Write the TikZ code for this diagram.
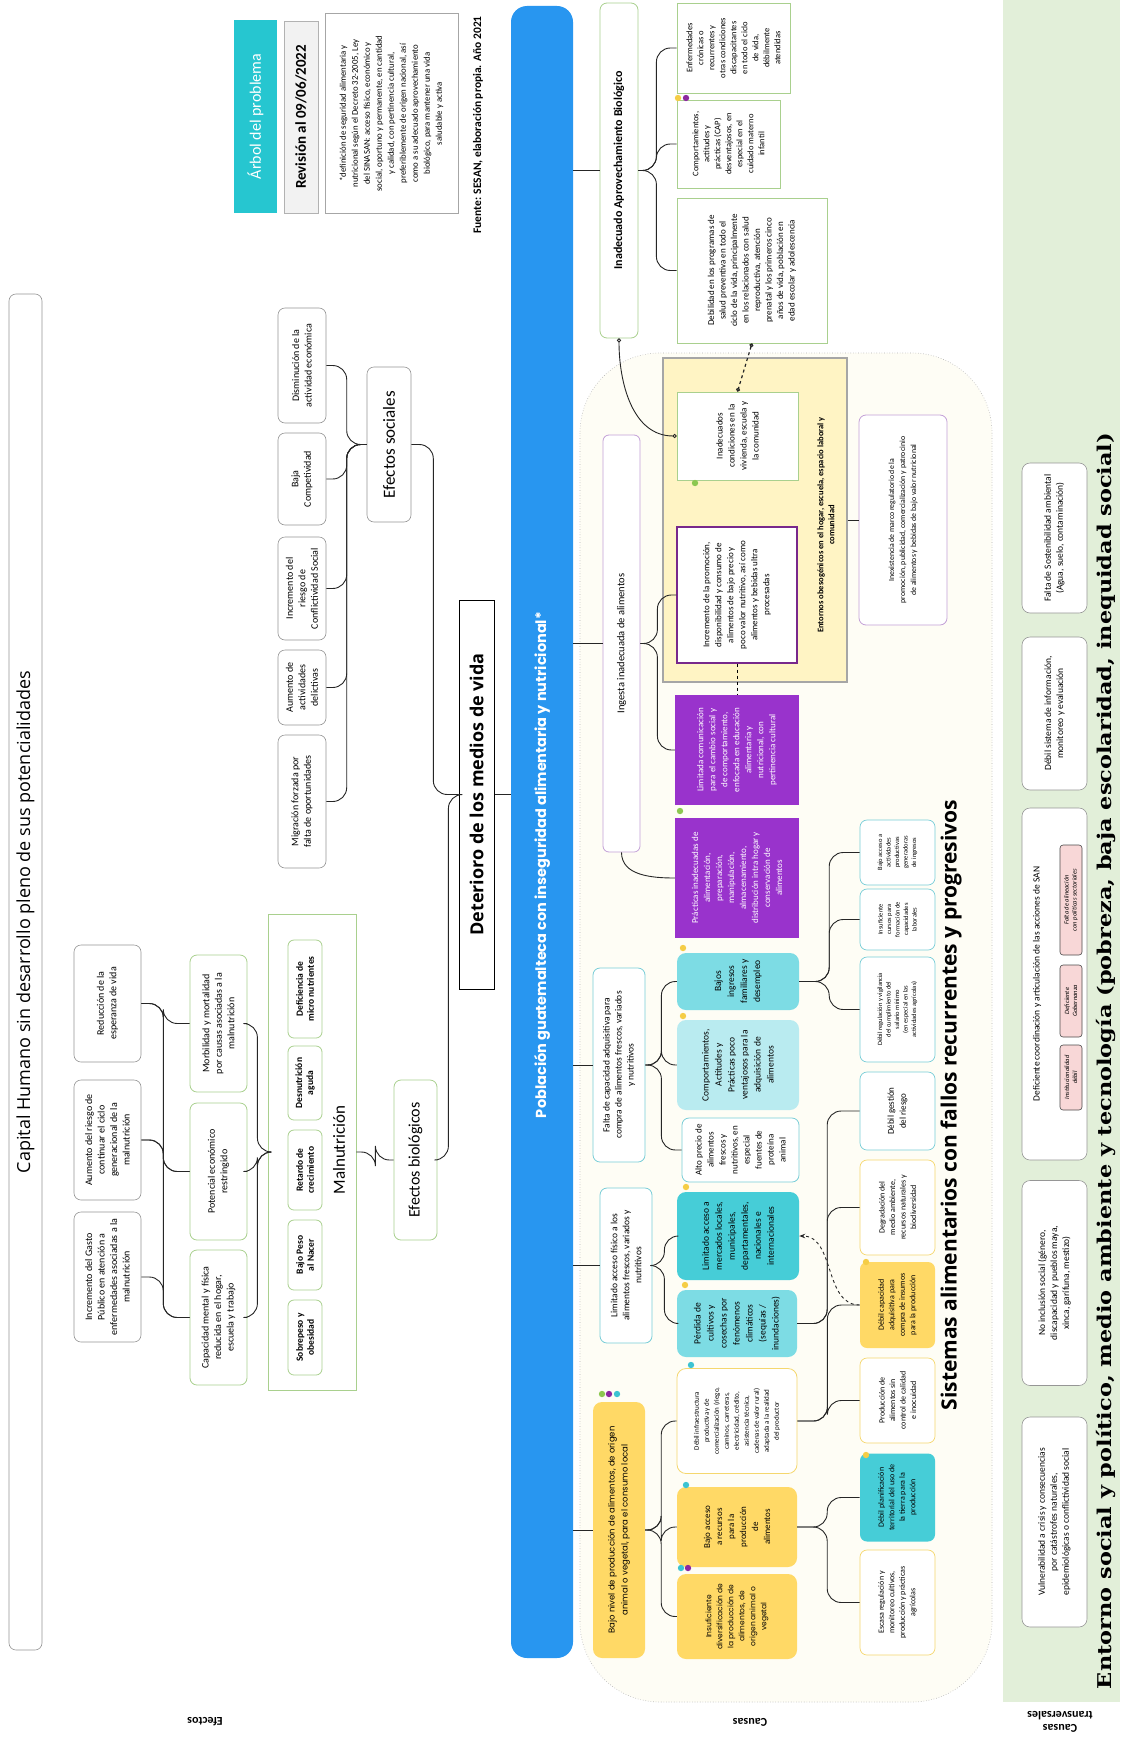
\documentclass[tikz,border=0pt]{standalone}
\usepackage{fontspec}
\setmainfont{Carlito}
\newfontfamily\popfont{Poppins}
\newfontfamily\opfont{Open Sans}
\newfontfamily\slabfont[FakeStretch=1.18]{DejaVu Serif}
\usepackage{tikz}
\usetikzlibrary{shapes.geometric, arrows, arrows.meta, backgrounds}
\definecolor{azul}{RGB}{40,150,240}
\definecolor{turquesa}{RGB}{38,198,208}
\definecolor{verdeborde}{RGB}{169,208,142}
\definecolor{gris}{RGB}{150,150,150}
\definecolor{verdetrans}{RGB}{226,239,217}
\definecolor{crema}{RGB}{254,253,245}
\definecolor{amarillosuave}{RGB}{255,244,196}
\definecolor{amarillo}{RGB}{255,217,102}
\definecolor{amarilloborde}{RGB}{245,215,110}
\definecolor{morado}{RGB}{153,51,204}
\definecolor{lilaborde}{RGB}{195,160,215}
\definecolor{lilaoscuro}{RGB}{120,40,140}
\definecolor{turquesaborde}{RGB}{120,205,215}
\definecolor{turquesaoscuro}{RGB}{70,205,215}
\definecolor{turquesamedio}{RGB}{125,220,228}
\definecolor{turquesaclaro}{RGB}{185,235,240}
\definecolor{rosa}{RGB}{248,215,215}
\definecolor{verdedot}{RGB}{140,200,80}
\definecolor{moradodot}{RGB}{140,40,160}
\definecolor{turquesadot}{RGB}{60,195,210}
\definecolor{amarillodot}{RGB}{245,205,70}
\tikzstyle{caja} = [rectangle, rotate=90, align=center, inner sep=2pt, fill=white, font=\fontsize{9}{12}\selectfont]
\tikzstyle{efecto} = [caja, draw=gris, rounded corners=7pt, line width=0.6pt, font=\fontsize{10}{12.5}\selectfont]
\tikzstyle{efectoverde} = [efecto, draw=verdeborde, line width=0.8pt]
\tikzstyle{titulo} = [caja, draw=gris, rounded corners=7pt, line width=0.6pt, font=\fontsize{17}{19}\selectfont]
\tikzstyle{malnu} = [caja, draw=verdeborde, rounded corners=6pt, line width=0.8pt, font=\bfseries\fontsize{9.5}{11}\selectfont]
\tikzstyle{subcausa} = [caja, rounded corners=9pt, font=\fontsize{9.5}{13}\selectfont]
\tikzstyle{menor} = [caja, rounded corners=7pt, line width=0.7pt, font=\fontsize{8}{10.5}\selectfont]
\tikzstyle{transversal} = [caja, draw=gris, rounded corners=8pt, line width=0.6pt, minimum height=65pt, font=\fontsize{9.5}{12}\selectfont]
\tikzstyle{rosado} = [caja, fill=rosa, draw=black!70, rounded corners=3pt, line width=0.6pt, minimum height=22pt, font=\itshape\fontsize{6.5}{8}\selectfont]
\tikzstyle{etiqueta} = [rotate=180, align=center, font=\bfseries\fontsize{12}{13}\selectfont]
\tikzstyle{rama} = [draw=black!85, line width=0.9pt, rounded corners=14pt]
\tikzstyle{enlace} = [draw=black!85, line width=0.9pt, {Circle[open,length=4pt]}-{Circle[open,length=4pt]}]
\tikzstyle{flecha} = [draw=black!85, line width=0.9pt, dashed, -{Stealth[length=6pt]}]
\tikzstyle{marco} = [draw=gray!60, dotted, fill=crema, rounded corners=80pt, line width=0.6pt]
\begin{document}
\begin{tikzpicture}[x=1pt, y=1pt]
    \useasboundingbox (0,0) rectangle (1120,-1742);
    \fill[white] (0,0) rectangle (1120,-1742);

    % fondos
    \fill[verdetrans] (1003,0) rectangle (1120,-1702);
    \draw[marco] (580,-353) rectangle (992,-1702);

    % nodes: efectos
    \node (capital) [titulo, minimum width=1356pt, minimum height=33pt] at (25.5,-972) {};
    \node (capitallbl) [caja, fill=none, font=\opfont\fontsize{18}{20}\selectfont] at (25.5,-922) {Capital Humano sin desarrollo pleno de sus potencialidades};
    \node (disminucion) [efecto, minimum width=115pt, minimum height=48pt] at (302,-365.5) {Disminución de la\\actividad económica};
    \node (competitividad) [efecto, minimum width=92pt, minimum height=48pt] at (302,-479) {Baja\\Competividad};
    \node (conflictividad) [efecto, minimum width=103pt, minimum height=48pt] at (302,-588.5) {Incremento del\\riesgo de\\Conflictividad Social};
    \node (delictivas) [efecto, minimum width=75pt, minimum height=48pt] at (302,-687.5) {Aumento de\\actividades\\delictivas};
    \node (migracion) [efecto, minimum width=133pt, minimum height=48pt] at (302,-801.5) {Migración forzada por\\falta de oportunidades};
    \node (efsociales) [titulo, minimum width=155pt, minimum height=44pt] at (389,-444.5) {Efectos sociales};
    \node (deterioro) [caja, draw=black, line width=1pt, font=\opfont\bfseries\fontsize{18}{20}\selectfont, minimum width=389pt, minimum height=35pt] at (476.5,-794.5) {Deterioro de los medios de vida};
    \node (efbiologicos) [titulo, draw=verdeborde, line width=0.8pt, font=\fontsize{16}{18}\selectfont, minimum width=160pt, minimum height=43pt] at (415.5,-1160) {Efectos biológicos};
    \node (marcomal) [caja, fill=none, draw=verdeborde, line width=0.8pt, minimum width=476pt, minimum height=88pt] at (312,-1152) {};
    \node (malnutricion) [caja, fill=none, font=\fontsize{17}{19}\selectfont] at (339,-1150) {Malnutrición};
    \node (micronutrientes) [malnu, minimum width=98pt, minimum height=34pt] at (305,-989) {Deficiencia de\\micro nutrientes};
    \node (desnutricion) [malnu, minimum width=74pt, minimum height=34pt] at (305,-1083) {Desnutrición\\aguda};
    \node (retardo) [malnu, minimum width=80pt, minimum height=34pt] at (305,-1170) {Retardo de\\crecimiento};
    \node (bajopeso) [malnu, minimum width=70pt, minimum height=34pt] at (305,-1255) {Bajo Peso\\al Nacer};
    \node (sobrepeso) [malnu, minimum width=75pt, minimum height=34pt] at (305,-1337.5) {Sobrepeso y\\obesidad};
    \node (morbilidad) [efectoverde, minimum width=137pt, minimum height=57pt] at (218.5,-1023.5) {Morbilidad  y mortalidad\\por causas asociadas a la\\malnutrición};
    \node (potencial) [efectoverde, minimum width=137pt, minimum height=57pt] at (218.5,-1171.5) {Potencial económico\\restringido};
    \node (capacidad) [efectoverde, minimum width=135pt, minimum height=57pt] at (218.5,-1317.5) {Capacidad mental y física\\reducida en el hogar,\\escuela y trabajo};
    \node (reduccion) [efecto, minimum width=117pt, minimum height=67pt] at (107.5,-1003.5) {Reducción de la\\esperanza de vida};
    \node (riesgociclo) [efecto, minimum width=120pt, minimum height=67pt] at (107.5,-1140) {Aumento del riesgo de\\continuar el ciclo\\generacional de la\\malnutrición};
    \node (gasto) [efecto, minimum width=130pt, minimum height=67pt] at (107.5,-1277) {Incremento del Gasto\\Público en atención a\\enfermedades asociadas a la\\malnutrición};

    % nodes: encabezado
    \node (arbol) [caja, fill=turquesa, text=white, font=\fontsize{16}{18}\selectfont, minimum width=193pt, minimum height=43pt] at (255.5,-116.5) {Árbol del problema};
    \node (revision) [caja, fill=gray!10, draw=gray!60, font=\bfseries\fontsize{15}{17}\selectfont, minimum width=192pt, minimum height=34pt] at (301,-117) {Revisión al 09/06/2022};
    \node (definicion) [caja, draw=gray!70, line width=1pt, font=\fontsize{8.8}{12}\selectfont, minimum width=199pt, minimum height=133pt] at (391.5,-113.5) {*definición de seguridad alimentaria y\\nutricional según el Decreto 32-2005, Ley\\del SINASAN: acceso físico, económico y\\social, oportuno y permanente, en cantidad\\y calidad, con pertinencia cultural,\\preferiblemente de origen nacional, así\\como a su adecuado aprovechamiento\\biológico, para mantener una vida\\saludable y activa};
    \node (fuente) [caja, fill=none, font=\bfseries\fontsize{11.5}{13}\selectfont] at (478,-125) {Fuente: SESAN, elaboración propia. Año 2021};

    % nodes: problema central
    \node (poblacion) [caja, fill=azul, rounded corners=16pt, minimum width=1652pt, minimum height=62pt] at (542,-832) {};
    \node (poblacionlbl) [caja, fill=none, text=white, font=\popfont\bfseries\fontsize{14.5}{16}\selectfont] at (542,-865) {Población guatemalteca con inseguridad alimentaria y nutricional*};

    % nodes: causas
    \node (aprovechamiento) [caja, draw=verdeborde, line width=0.8pt, rounded corners=7pt, font=\bfseries\fontsize{12}{14}\selectfont, minimum width=335pt, minimum height=38pt] at (619,-170.5) {Inadecuado Aprovechamiento Biológico};
    \node (enfermedades) [caja, draw=verdeborde, line width=0.7pt, font=\fontsize{8.5}{11}\selectfont, minimum width=90pt, minimum height=113pt] at (733.5,-48) {Enfermedades\\crónicas o\\recurrentes  y\\otras condiciones\\discapacitantes\\en todo el ciclo\\de vida,\\débilmente\\atendidas};
    \node (capmaterno) [caja, draw=verdeborde, line width=0.7pt, font=\fontsize{8.5}{11}\selectfont, minimum width=88pt, minimum height=103pt] at (728.5,-144) {Comportamientos,\\actitudes y\\prácticas (CAP)\\desventajosos, en\\especial en el\\cuidado materno\\infantil};
    \node (debilidad) [caja, draw=verdeborde, line width=0.7pt, font=\fontsize{9}{11.5}\selectfont, minimum width=145pt, minimum height=150pt] at (752,-270.5) {Debilidad en los programas de\\salud preventiva en todo el\\ciclo de la vida, principalmente\\en los relacionados con salud\\reproductiva,  atención\\prenatal y los primeros cinco\\años de vida, población en\\edad escolar y adolescencia};
    \node (ingesta) [caja, draw=lilaborde, line width=0.8pt, rounded corners=6pt, font=\fontsize{10.5}{12}\selectfont, minimum width=417pt, minimum height=37pt] at (621.5,-643.5) {Ingesta inadecuada de alimentos};
    \node (entornos) [caja, fill=amarillosuave, draw=gray!70, line width=1.2pt, minimum width=324pt, minimum height=184pt] at (755,-520) {};
    \node (entornoslbl) [caja, fill=none, font=\bfseries\fontsize{8.5}{11}\selectfont] at (826,-525) {Entornos obesogénicos en el hogar, escuela, espacio laboral y\\comunidad};
    \node (condiciones) [caja, draw=verdeborde, line width=0.8pt, minimum width=88pt, minimum height=121pt] at (737.5,-436) {Inadecuados\\condiciones en la\\vivienda, escuela y\\la comunidad};
    \node (promocion) [caja, draw=lilaoscuro, line width=1.2pt, minimum width=136pt, minimum height=120pt] at (737,-595) {Incremento de la promoción,\\disponibilidad y  consumo de\\alimentos de bajo precio y\\poco valor nutritivo, así como\\alimentos y bebidas ultra\\procesadas};
    \node (regulatorio) [caja, draw=lilaborde, line width=0.8pt, rounded corners=7pt, font=\fontsize{7.8}{11}\selectfont, minimum width=210pt, minimum height=88pt] at (903,-520) {Inexistencia de marco regulatorio de la\\promoción, publicidad, comercialización y patrocinio\\de alimentos y bebidas de bajo valor nutricional};
    \node (comunicacion) [caja, fill=morado, text=white, minimum width=110pt, minimum height=124pt] at (737,-750) {Limitada comunicación\\para el cambio social y\\de comportamiento,\\enfocada en educación\\alimentaria y\\nutricional, con\\pertinencia cultural};
    \node (practicas) [caja, fill=morado, text=white, minimum width=120pt, minimum height=124pt] at (737,-878) {Prácticas inadecuadas de\\alimentación,\\preparación,\\manipulación,\\almacenamiento,\\distribución intra hogar y\\conservación de\\alimentos};
    \node (capacidadadq) [caja, draw=turquesaborde, line width=0.8pt, rounded corners=7pt, font=\fontsize{9.5}{12}\selectfont, minimum width=194pt, minimum height=52pt] at (619,-1065) {Falta de capacidad  adquisitiva para\\compra de alimentos frescos, variados\\y nutritivos};
    \node (ingresos) [subcausa, fill=turquesamedio, minimum width=57pt, minimum height=122pt] at (738,-981.5) {Bajos\\ingresos\\familiares y\\desempleo};
    \node (cappoco) [subcausa, fill=turquesaclaro, minimum width=90pt, minimum height=122pt] at (738,-1065) {Comportamientos,\\Actitudes y\\Prácticas poco\\ventajosos para la\\adquisición de\\alimentos};
    \node (precio) [caja, draw=turquesaborde, line width=0.8pt, rounded corners=7pt, minimum width=64pt, minimum height=117pt] at (740.5,-1150) {Alto precio de\\alimentos\\frescos y\\nutritivos, en\\especial\\fuentes de\\proteína\\animal};
    \node (accesofisico) [caja, draw=turquesaborde, line width=0.8pt, rounded corners=7pt, font=\fontsize{9.5}{12}\selectfont, minimum width=155pt, minimum height=52pt] at (626,-1265.5) {Limitado acceso físico a los\\alimentos frescos, variados  y\\nutritivos};
    \node (mercados) [subcausa, fill=turquesaoscuro, minimum width=88pt, minimum height=122pt] at (738,-1236) {Limitado acceso a\\mercados locales,\\municipales,\\departamentales,\\nacionales e\\internacionales};
    \node (perdida) [subcausa, fill=turquesamedio, minimum width=67pt, minimum height=120pt] at (737,-1323.5) {Pérdida de\\cultivos y\\cosechas por\\fenómenos\\climáticos\\(sequías /\\inundaciones)};
    \node (produccionlocal) [caja, fill=amarillo, rounded corners=9pt, font=\popfont\fontsize{8.5}{13}\selectfont, minimum width=256pt, minimum height=52pt] at (619,-1530) {Bajo nivel de producción de alimentos, de origen\\animal o vegetal, para el consumo local};
    \node (infraestructura) [caja, draw=amarilloborde, line width=0.8pt, rounded corners=9pt, font=\fontsize{7}{10}\selectfont, minimum width=105pt, minimum height=120pt] at (737,-1421) {Débil infraestructura\\productiva y de\\comercialización (riego,\\caminos, carreteras,\\electricidad, crédito,\\asistencia técnica,\\cadenas de valor rural)\\adaptada a la realidad\\del productor};
    \node (recursos) [subcausa, fill=amarillo, font=\fontsize{9}{12}\selectfont, minimum width=80pt, minimum height=120pt] at (737,-1527) {Bajo acceso\\a recursos\\para la\\producción\\de\\alimentos};
    \node (diversificacion) [subcausa, fill=amarillo, font=\popfont\fontsize{7.5}{11}\selectfont, minimum width=85pt, minimum height=120pt] at (737,-1616.5) {Insuficiente\\diversificación de\\la producción de\\alimentos, de\\origen animal o\\vegetal};
    \node (actividades) [menor, draw=turquesaborde, font=\fontsize{6.5}{8.5}\selectfont, minimum width=65pt, minimum height=75pt] at (897.5,-852.5) {Bajo acceso a\\actividades\\productivas\\generadoras\\de ingresos};
    \node (cursos) [menor, draw=turquesaborde, font=\fontsize{6.5}{8.5}\selectfont, minimum width=61pt, minimum height=75pt] at (897.5,-919.5) {Insuficiente\\cursos para\\formación de\\capacidades\\laborales};
    \node (salario) [menor, draw=turquesaborde, font=\fontsize{6.5}{8.5}\selectfont, minimum width=105pt, minimum height=75pt] at (897.5,-1009.5) {Débil regulación y vigilancia\\del cumplimiento del\\salario mínimo\\(en especial en las\\actividades agrícolas)};
    \node (riesgo) [menor, draw=turquesaborde, font=\fontsize{9}{12}\selectfont, minimum width=78pt, minimum height=75pt] at (897.5,-1111) {Débil  gestión\\del riesgo};
    \node (degradacion) [menor, draw=amarilloborde, minimum width=95pt, minimum height=75pt] at (897.5,-1207.5) {Degradación del\\medio ambiente,\\recursos naturales y\\biodiversidad};
    \node (insumos) [menor, fill=amarillo, minimum width=86pt, minimum height=75pt] at (897.5,-1305) {Débil capacidad\\adquisitiva para\\compra de insumos\\para la producción};
    \node (inocuidad) [menor, draw=amarilloborde, minimum width=85pt, minimum height=75pt] at (897.5,-1400.5) {Producción de\\alimentos sin\\control de calidad\\e inocuidad};
    \node (planificacion) [menor, fill=turquesaoscuro, minimum width=88pt, minimum height=75pt] at (897.5,-1497.5) {Débil planificación\\territorial del uso de\\la tierra para la\\producción};
    \node (monitoreo) [menor, draw=amarilloborde, minimum width=105pt, minimum height=75pt] at (897.5,-1602.5) {Escasa regulación y\\monitoreo cultivos,\\producción y prácticas\\agrícolas};
    \node (sistemas) [caja, fill=none, font=\opfont\bfseries\fontsize{21}{23}\selectfont] at (951,-1105) {Sistemas alimentarios con fallos recurrentes y progresivos};

    % nodes: causas transversales
    \node (sostenibilidad) [transversal, minimum width=150pt] at (1054.5,-538) {Falta de Sostenibilidad ambiental\\(Agua, suelo, contaminación)};
    \node (informacion) [transversal, minimum width=153pt] at (1054.5,-713.5) {Débil sistema de información,\\monitoreo y evaluación};
    \node (coordinacion) [transversal, minimum width=352pt] at (1054.5,-984) {};
    \node (coordlbl) [caja, fill=none, font=\fontsize{9.5}{12}\selectfont] at (1037,-984) {Deficiente coordinación y articulación de las acciones de SAN};
    \node (alineacion) [rosado, minimum width=110pt] at (1071,-900) {Falta de alineación\\con políticas sectoriales};
    \node (gobernanza) [rosado, minimum width=72pt] at (1071,-1001) {Deficiente\\Gobernanza};
    \node (institucionalidad) [rosado, minimum width=65pt] at (1071,-1077.5) {Institucionalidad\\débil};
    \node (inclusion) [transversal, minimum width=205pt] at (1054.5,-1283) {No inclusión social (género,\\discapacidad y  pueblos maya,\\xinca, garífuna, mestizo)};
    \node (vulnerabilidad) [transversal, minimum width=210pt] at (1054.5,-1522) {Vulnerabilidad a crisis y consecuencias\\por catástrofes naturales,\\epidemiológicas o conflictividad social};
    \node (entornosocial) [caja, fill=none, font=\slabfont\bfseries\fontsize{19}{21}\selectfont] at (1106,-1061) {Entorno social y político, medio ambiente y tecnología (pobreza, baja escolaridad, inequidad social)};

    % etiquetas
    \node (lblefectos) [etiqueta] at (205,-1722) {Efectos};
    \node (lblcausas) [etiqueta] at (750,-1722) {Causas};
    \node (lbltransversales) [etiqueta] at (1060,-1722) {Causas\\transversales};

    % edges: efectos
    \draw [rama] (efsociales.north) -- ++(-20,0) |- (disminucion.south);
    \draw [rama] (efsociales.north) -- ++(-20,0) |- (competitividad.south);
    \draw [rama] (efsociales.north) -- ++(-20,0) |- (conflictividad.south);
    \draw [rama] (efsociales.north) -- ++(-20,0) |- (delictivas.south);
    \draw [rama] (efsociales.north) -- ++(-20,0) |- (migracion.south);
    \draw [rama] (efsociales.south) -- ++(22,0) |- (deterioro.north);
    \draw [rama] (efbiologicos.south) -- ++(11,0) |- (deterioro.north);
    \draw [rama] (marcomal.south) -- ++(19,0) |- (efbiologicos.north);
    \draw [rama] (morbilidad.south) -- ++(10,0) |- (marcomal.north);
    \draw [rama] (potencial.south) -- ++(10,0) |- (marcomal.north);
    \draw [rama] (capacidad.south) -- ++(10,0) |- (marcomal.north);
    \draw [rama] (reduccion.south) -- ++(22,0) |- (morbilidad.north);
    \draw [rama] (reduccion.south) -- ++(22,0) |- (potencial.north);
    \draw [rama] (riesgociclo.south) -- ++(22,0) |- (potencial.north);
    \draw [rama] (riesgociclo.south) -- ++(22,0) |- (capacidad.north);
    \draw [rama] (gasto.south) -- ++(22,0) |- (capacidad.north);
    \draw [rama] (deterioro.south) -- (deterioro.south -| poblacion.north);

    % edges: causas
    \draw [rama] (poblacion.south |- aprovechamiento.north) -- (aprovechamiento.north);
    \draw [rama] (poblacion.south |- ingesta.north) -- (ingesta.north);
    \draw [rama] (poblacion.south |- capacidadadq.north) -- (capacidadadq.north);
    \draw [rama] (poblacion.south |- accesofisico.north) -- (accesofisico.north);
    \draw [rama] (poblacion.south |- produccionlocal.north) -- (produccionlocal.north);
    \draw [rama] (aprovechamiento.south) -- ++(18,0) |- (enfermedades.north);
    \draw [rama] (aprovechamiento.south) -- ++(18,0) |- (capmaterno.north);
    \draw [rama] (aprovechamiento.south) -- ++(18,0) |- (debilidad.north);
    \draw [enlace] (aprovechamiento.west) to[out=-90,in=180] (condiciones.north);
    \draw [enlace, dashed, line width=1.2pt] (debilidad.west) -- (condiciones.east);
    \draw [rama] (ingesta.south) -- ++(17,0) |- (promocion.north);
    \draw [rama] (ingesta.south) -- ++(17,0) |- (comunicacion.north);
    \draw [rama] (ingesta.west) to[out=-90,in=180] (practicas.north);
    \draw [rama] (entornos.south) -- (regulatorio.north);
    \draw [dashed, line width=0.9pt] (promocion.west) -- (comunicacion.east);
    \draw [rama] (capacidadadq.south) -- ++(16,0) |- (ingresos.north);
    \draw [rama] (capacidadadq.south) -- ++(16,0) |- (cappoco.north);
    \draw [rama] (capacidadadq.south) -- ++(16,0) |- (precio.north);
    \draw [rama] (ingresos.south) -- ++(30,0) |- (actividades.north);
    \draw [rama] (ingresos.south) -- ++(30,0) |- (cursos.north);
    \draw [rama] (ingresos.south) -- ++(30,0) |- (salario.north);
    \draw [rama] (accesofisico.south) -- ++(12,0) |- (mercados.north);
    \draw [rama] (accesofisico.south) -- ++(12,0) |- (perdida.north);
    \draw [rama] (perdida.south) -- ++(30,0) |- (riesgo.north);
    \draw [rama] (perdida.south) -- ++(30,0) |- (degradacion.north);
    \draw [rama] (produccionlocal.south) -- ++(16,0) |- (infraestructura.north);
    \draw [rama] (produccionlocal.south) -- ++(16,0) |- (recursos.north);
    \draw [rama] (produccionlocal.south) -- ++(16,0) |- (diversificacion.north);
    \draw [rama] (infraestructura.south) -- ++(30,0) |- (insumos.north);
    \draw [rama] (infraestructura.south) -- ++(30,0) |- (inocuidad.north);
    \draw [rama] (recursos.south) -- ++(30,0) |- (planificacion.north);
    \draw [rama] (recursos.south) -- ++(30,0) |- (monitoreo.north);
    \draw [flecha] (insumos.north) to[out=180,in=0] (mercados.south);

    % marcadores
    \fill[amarillodot] (678,-98) circle (3.2);
    \fill[moradodot] (686,-98) circle (3.2);
    \fill[verdedot] (695,-483) circle (3.2);
    \fill[verdedot] (680,-811) circle (3.2);
    \fill[amarillodot] (683,-948) circle (3.2);
    \fill[amarillodot] (683,-1016) circle (3.2);
    \fill[amarillodot] (686,-1187) circle (3.2);
    \fill[amarillodot] (685,-1285) circle (3.2);
    \fill[verdedot] (602,-1394) circle (3.2);
    \fill[moradodot] (609,-1394) circle (3.2);
    \fill[turquesadot] (617,-1394) circle (3.2);
    \fill[turquesadot] (691,-1365) circle (3.2);
    \fill[turquesadot] (686,-1485) circle (3.2);
    \fill[turquesadot] (681,-1568) circle (3.2);
    \fill[moradodot] (688,-1568) circle (3.2);
    \fill[amarillodot] (866,-1455) circle (3.2);
    \fill[amarillodot] (866,-1262) circle (3.2);

\end{tikzpicture}
\end{document}
